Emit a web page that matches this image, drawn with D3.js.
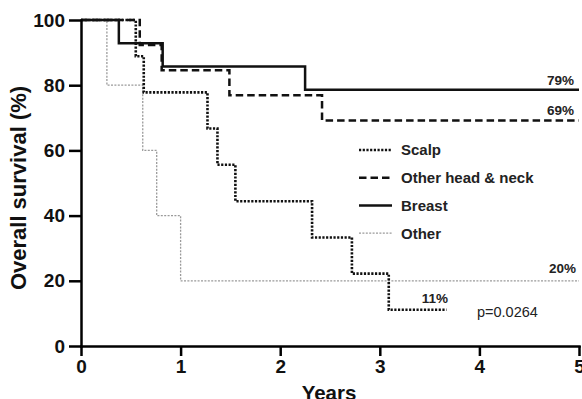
<!DOCTYPE html>
<html>
<head>
<meta charset="utf-8">
<script src="https://cdn.jsdelivr.net/npm/d3@7"></script>
<style>
  body { margin: 0; background: #fff; }
  svg { display: block; font-family: "Liberation Sans", Arial, sans-serif; }
  .axis path, .axis line { stroke: #000; stroke-width: 2.5; }
  .axis text { font-size: 19px; font-weight: bold; fill: #111; }
</style>
</head>
<body>
<svg class="km-chart"></svg>
<script>
// Kaplan-Meier steps (years, % surviving)
var breastTimes = [0, 0.38, 0.82, 2.25];
var breastSurv = [100, 92.9, 85.7, 78.6];
var breastEnd = 5;

var headNeckTimes = [0, 0.59, 0.81, 1.49, 2.42];
var headNeckSurv = [100, 92.3, 84.6, 76.9, 69.2];
var headNeckEnd = 5;

var scalpTimes = [0, 0.55, 0.63, 1.27, 1.37, 1.55, 2.32, 2.72, 3.09];
var scalpSurv = [100, 88.9, 77.8, 66.7, 55.6, 44.4, 33.3, 22.2, 11.1];
var scalpEnd = 3.67;

var otherTimes = [0, 0.26, 0.62, 0.76, 1.0];
var otherSurv = [100, 80, 60, 40, 20];
var otherEnd = 5;

var legendNames = ["Scalp", "Other head & neck", "Breast", "Other"];
var xTicks = [0, 1, 2, 3, 4, 5];
var yTicks = [0, 20, 40, 60, 80, 100];
var pValue = "p=0.0264";

var width = 582, height = 399;

var x = d3.scaleLinear().domain([0, 5]).range([81, 579]);
var y = d3.scaleLinear().domain([0, 100]).range([346, 20]);

var styles = {
  "Scalp": {stroke: "#111", width: 2.6, dash: "2.2,1.5"},
  "Other head & neck": {stroke: "#111", width: 2.5, dash: "7.5,4"},
  "Breast": {stroke: "#111", width: 2.5, dash: null},
  "Other": {stroke: "#9a9a9a", width: 1.3, dash: "2,1.4"}
};

function steps(times, surv, end) {
  var pts = times.map(function(t, i) { return {t: t, s: surv[i]}; });
  pts.push({t: end, s: surv[surv.length - 1]});
  return pts;
}

var series = [
  {name: "Other", pts: steps(otherTimes, otherSurv, otherEnd)},
  {name: "Scalp", pts: steps(scalpTimes, scalpSurv, scalpEnd)},
  {name: "Other head & neck", pts: steps(headNeckTimes, headNeckSurv, headNeckEnd)},
  {name: "Breast", pts: steps(breastTimes, breastSurv, breastEnd)}
];

var svg = d3.select(".km-chart")
  .attr("width", width)
  .attr("height", height);

var line = d3.line()
  .x(function(d) { return x(d.t); })
  .y(function(d) { return y(d.s); })
  .curve(d3.curveStepAfter);

svg.selectAll(".curve")
  .data(series)
  .enter().append("path")
  .attr("class", "curve")
  .attr("d", function(d) { return line(d.pts); })
  .attr("fill", "none")
  .attr("stroke", function(d) { return styles[d.name].stroke; })
  .attr("stroke-width", function(d) { return styles[d.name].width; })
  .attr("stroke-dasharray", function(d) { return styles[d.name].dash; });

// axes
svg.append("g")
  .attr("class", "axis")
  .attr("transform", "translate(0," + y(0) + ")")
  .call(d3.axisBottom(x).tickValues(xTicks).tickSize(10).tickSizeOuter(0).tickPadding(4).tickFormat(d3.format("d")));

svg.append("g")
  .attr("class", "axis")
  .attr("transform", "translate(" + x(0) + ",0)")
  .call(d3.axisLeft(y).tickValues(yTicks).tickSize(12).tickSizeOuter(0).tickPadding(4).tickFormat(d3.format("d")));

svg.selectAll(".axis .domain").attr("stroke-linecap", "square");

// axis titles
svg.append("text")
  .attr("transform", "translate(26,188) rotate(-90)")
  .attr("text-anchor", "middle")
  .style("font-size", "22px")
  .style("font-weight", "bold")
  .attr("fill", "#111")
  .text("Overall survival (%)");

svg.append("text")
  .attr("x", 329)
  .attr("y", 400)
  .attr("text-anchor", "middle")
  .style("font-size", "20.5px")
  .style("font-weight", "bold")
  .attr("fill", "#111")
  .text("Years");

// end labels
var endLabels = [
  {text: "79%", t: 5, s: breastSurv[breastSurv.length - 1], dx: -5, dy: -5},
  {text: "69%", t: 5, s: headNeckSurv[headNeckSurv.length - 1], dx: -5, dy: -5},
  {text: "20%", t: 5, s: otherSurv[otherSurv.length - 1], dx: -3, dy: -8},
  {text: "11%", t: scalpEnd, s: scalpSurv[scalpSurv.length - 1], dx: 1.5, dy: -7}
];

svg.selectAll(".end-label")
  .data(endLabels)
  .enter().append("text")
  .attr("class", "end-label")
  .attr("x", function(d) { return x(d.t) + d.dx; })
  .attr("y", function(d) { return y(d.s) + d.dy; })
  .attr("text-anchor", "end")
  .style("font-size", "13.5px")
  .style("font-weight", "bold")
  .attr("fill", "#222")
  .text(function(d) { return d.text; });

svg.append("text")
  .attr("x", 477)
  .attr("y", 317)
  .style("font-size", "14.5px")
  .attr("fill", "#222")
  .text(pValue);

// legend
var legend = svg.selectAll(".legend")
  .data(legendNames)
  .enter().append("g")
  .attr("class", "legend")
  .attr("transform", function(d, i) { return "translate(359," + (150 + i * 27.7) + ")"; });

legend.append("line")
  .attr("x1", 0)
  .attr("x2", 33)
  .attr("stroke", function(d) { return styles[d].stroke; })
  .attr("stroke-width", function(d) { return styles[d].width; })
  .attr("stroke-dasharray", function(d) { return styles[d].dash; });

legend.append("text")
  .attr("x", 42)
  .attr("dy", "0.36em")
  .style("font-size", "15px")
  .style("font-weight", "bold")
  .attr("fill", "#222")
  .text(function(d) { return d; });
</script>
</body>
</html>
